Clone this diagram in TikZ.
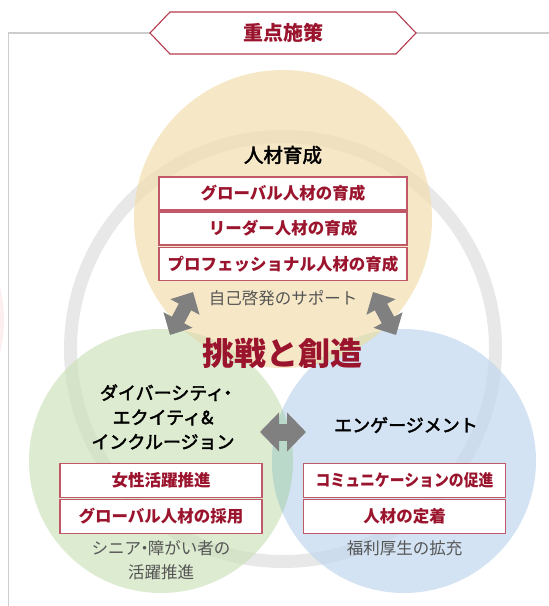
\documentclass[tikz,border=0pt]{standalone}
\usepackage{fontspec}
\usepackage{graphicx}
\setmainfont{Noto Sans CJK JP}
\newfontfamily\jpmed[FakeBold=2.5]{Noto Sans CJK JP}
\usetikzlibrary{arrows.meta}
\newcommand{\nakaguro}{\kern-0.3em・\kern-0.3em}
\definecolor{framegray}{RGB}{205,205,205}
\definecolor{ringgray}{RGB}{232,232,232}
\definecolor{yel}{RGB}{242,221,174}
\definecolor{grn}{RGB}{206,226,188}
\definecolor{blu}{RGB}{194,215,238}
\definecolor{tealov}{RGB}{186,217,203}
\definecolor{oliveov}{RGB}{226,224,186}
\definecolor{dred}{RGB}{155,20,45}
\definecolor{bred}{RGB}{192,88,104}
\definecolor{hexred}{RGB}{180,60,78}
\definecolor{subgray}{RGB}{85,85,85}
\definecolor{arrgray}{RGB}{128,128,128}
\definecolor{pinkedge}{RGB}{253,238,239}
\begin{document}
\begin{tikzpicture}[x=1pt,y=-1pt,
  rbox/.style={draw=bred, line width=1.2pt, fill=white, inner sep=0pt,
    text=dred, font=\fontsize{16.5}{18}\selectfont\bfseries},
  ybox/.style={rbox, minimum width=248pt, minimum height=33pt},
  gbox/.style={rbox, minimum width=202pt, minimum height=34pt},
  headtext/.style={inner sep=0pt, text=black, align=center,
    font=\fontsize{18}{24.5}\selectfont\jpmed},
  subtext/.style={inner sep=0pt, text=subgray, align=center,
    font=\fontsize{16.5}{24}\selectfont},
  coretext/.style={inner sep=0pt, text=dred, font=\fontsize{32}{34}\selectfont\bfseries},
  dblarrow/.style={draw=arrgray, line width=14pt,
    arrows={Triangle[length=17pt,width=32pt]-Triangle[length=17pt,width=32pt]}},
  harrow/.style={draw=arrgray, line width=17pt,
    arrows={Triangle[length=19pt,width=38pt]-Triangle[length=19pt,width=38pt]}}
]
\useasboundingbox (0,0) rectangle (549,606);
% faint neighbour shape at left edge
\fill[pinkedge] (-40,320) ellipse [x radius=44pt, y radius=80pt];
% frame
\draw[framegray, line width=1.5pt] (8.5,606) -- (8.5,33) -- (549,33);
% big ring
\draw[ringgray, line width=13pt] (283,349) circle[radius=212.5pt];
% three circles
\fill[yel, fill opacity=0.7] (283,219) circle[radius=149pt];
\fill[grn, fill opacity=0.7] (161,461) circle[radius=132pt];
\fill[blu, fill opacity=0.7] (404,461) circle[radius=132pt];
% overlaps
\begin{scope}
  \clip (161,461) circle[radius=132pt];
  \fill[tealov] (404,461) circle[radius=132pt];
  \fill[oliveov] (283,219) circle[radius=149pt];
\end{scope}
\begin{scope}
  \clip (404,461) circle[radius=132pt];
  \fill[oliveov] (283,219) circle[radius=149pt];
\end{scope}
% title hexagon
\draw[hexred, line width=1.1pt, fill=white] (150,33) -- (170,12) -- (396,12) -- (416,33) -- (396,54) -- (170,54) -- cycle;
\node[inner sep=0pt, text=dred, font=\fontsize{20}{22}\selectfont\bfseries] (title) at (283,33) {重点施策};
% arrows
\coordinate (la1) at (170,335);
\coordinate (la2) at (193,292);
\coordinate (ra1) at (396,335);
\coordinate (ra2) at (373,292);
\coordinate (ha1) at (260,432);
\coordinate (ha2) at (306,432);
\draw[dblarrow] (la1) -- (la2);
\draw[dblarrow] (ra1) -- (ra2);
\draw[harrow] (ha1) -- (ha2);
% yellow circle content
\node[headtext, font=\fontsize{19.5}{22}\selectfont\jpmed] (h1) at (283,155) {人材育成};
\node[ybox] (y1) at (283,193.5) {グローバル人材の育成};
\node[ybox] (y2) at (283,228.5) {リーダー人材の育成};
\node[ybox] (y3) at (283,264) {プロフェッショナル人材の育成};
\node[subtext] (s1) at (283,298) {自己啓発のサポート};
% centre
\node[coretext] (core) at (282,353) {挑戦と創造};
% green circle content
\node[headtext] (h2) at (163,417) {ダイバーシティ\nakaguro\hphantom{\kern-0.3em}\\エクイティ\&\\インクルージョン};
\node[gbox] (g1) at (161,480.5) {女性活躍推進};
\node[gbox] (g2) at (161,516.5) {グローバル人材の採用};
\node[subtext] (s2) at (161,560) {シニア\nakaguro 障がい者の\\活躍推進};
% blue circle content
\node[headtext] (h3) at (406,425) {エンゲージメント};
\node[gbox] (b1) at (404.5,480.5) {\scalebox{0.9}[1]{コミュニケーションの促進}};
\node[gbox] (b2) at (404.5,516.5) {人材の定着};
\node[subtext] (s3) at (404.5,548) {福利厚生の拡充};
\end{tikzpicture}
\end{document}
